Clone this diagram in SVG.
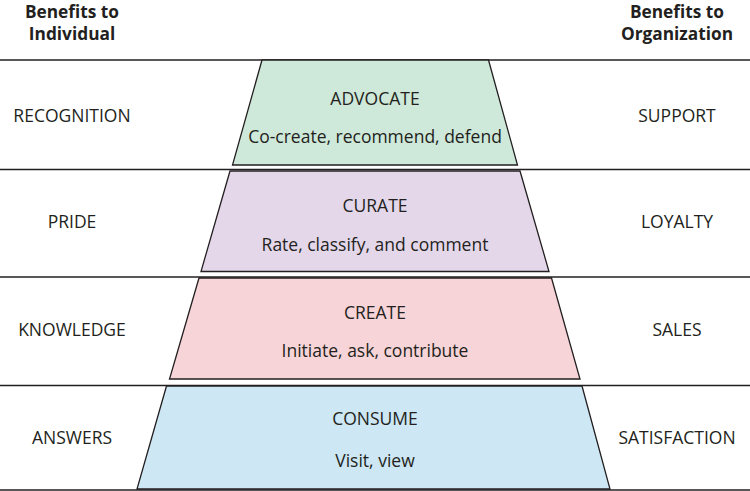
<svg xmlns="http://www.w3.org/2000/svg" width="750" height="491" viewBox="0 0 750 491">
<style>
.hd{font-family:"Open Sans","Liberation Sans",sans-serif;font-weight:bold;font-size:17.3px;fill:#231f20;text-anchor:middle}
.lb{font-family:"Open Sans","Liberation Sans",sans-serif;font-size:17.5px;fill:#231f20;text-anchor:middle}
.tz{stroke:#231f20;stroke-width:1.3}
.rule{stroke:#231f20;stroke-width:1.5}
</style>
<rect width="750" height="491" fill="#ffffff"/>
<g id="headers">
<text class="hd" x="72" y="18">Benefits to</text>
<text class="hd" x="72" y="40">Individual</text>
<text class="hd" x="677" y="18">Benefits to</text>
<text class="hd" x="677" y="40">Organization</text>
</g>
<g id="rules">
<line class="rule" x1="0" y1="60" x2="750" y2="60"/>
<line class="rule" x1="0" y1="169.5" x2="750" y2="169.5"/>
<line class="rule" x1="0" y1="277" x2="750" y2="277"/>
<line class="rule" x1="0" y1="385.5" x2="750" y2="385.5"/>
<line class="rule" x1="0" y1="490" x2="750" y2="490"/>
</g>
<g id="advocate">
<polygon class="tz" fill="#cee8d9" points="262,60 488.5,60 517.5,165 232.5,165"/>
<text class="lb" x="375" y="105">ADVOCATE</text>
<text class="lb" x="375" y="143">Co-create, recommend, defend</text>
</g>
<g id="curate">
<polygon class="tz" fill="#e4d7ea" points="230,171 520,171 549,271.5 201,271.5"/>
<text class="lb" x="375" y="212">CURATE</text>
<text class="lb" x="375" y="251">Rate, classify, and comment</text>
</g>
<g id="create">
<polygon class="tz" fill="#f7d4d7" points="199,278 551.5,278 580,379 169.5,379"/>
<text class="lb" x="375" y="319">CREATE</text>
<text class="lb" x="375" y="357">Initiate, ask, contribute</text>
</g>
<g id="consume">
<polygon class="tz" fill="#cde7f5" points="166.5,386 582,386 610,489 137,489"/>
<text class="lb" x="375" y="425">CONSUME</text>
<text class="lb" x="375" y="467">Visit, view</text>
</g>
<g id="left-labels">
<text class="lb" x="72" y="122">RECOGNITION</text>
<text class="lb" x="72" y="228">PRIDE</text>
<text class="lb" x="72" y="336">KNOWLEDGE</text>
<text class="lb" x="72" y="444">ANSWERS</text>
</g>
<g id="right-labels">
<text class="lb" x="677" y="122">SUPPORT</text>
<text class="lb" x="677" y="228">LOYALTY</text>
<text class="lb" x="677" y="336">SALES</text>
<text class="lb" x="677" y="444">SATISFACTION</text>
</g>
</svg>
